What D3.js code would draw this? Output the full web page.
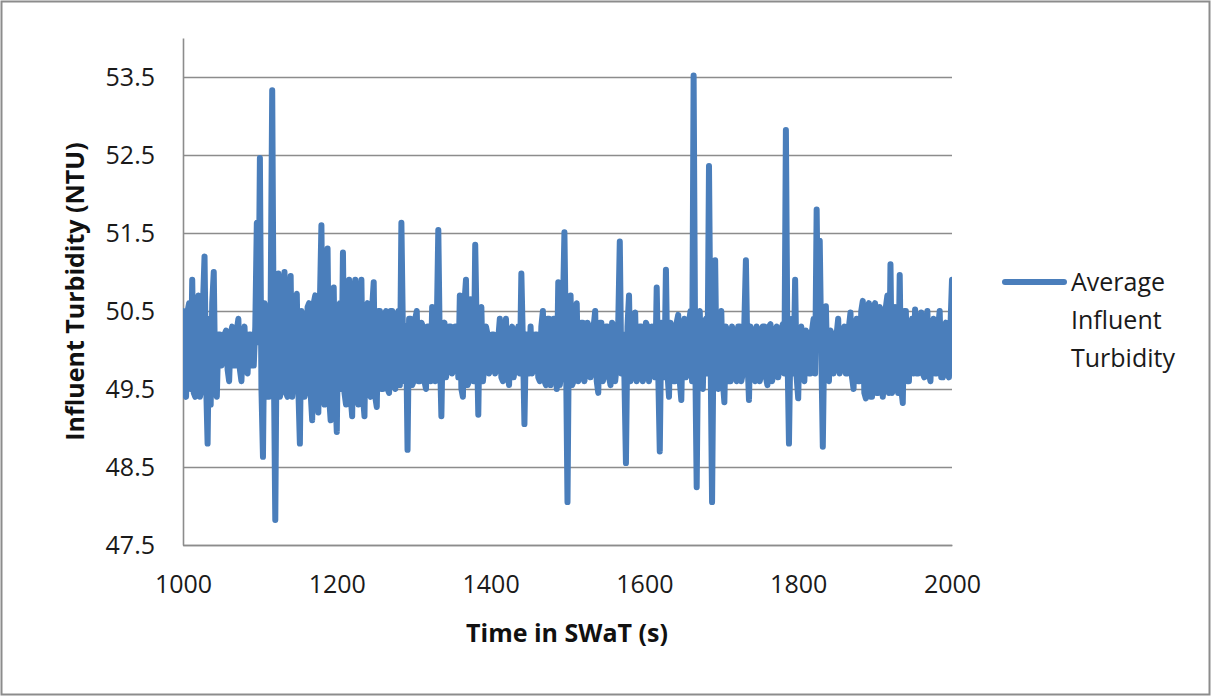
<!DOCTYPE html>
<html>
<head>
<meta charset="utf-8">
<script src="https://d3js.org/d3.v7.min.js"></script>
<style>
  body { margin: 0; background: white; }
  svg { display: block; }
  .tick text { font-family: "Open Sans", sans-serif; font-size: 25px; fill: #1a1a1a; }
  .grid line { stroke: #8c8c8c; stroke-width: 1.6px; }
  .domain { stroke: #8c8c8c; stroke-width: 1.6px; }
  .title { font-family: "Open Sans", sans-serif; font-size: 25px; font-weight: bold; fill: #111; }
  .legend text { font-family: "Open Sans", sans-serif; font-size: 25px; fill: #1a1a1a; }
</style>
</head>
<body>
<script>
// series sampled every 2 s from 1000 to 2000 (20 values = 40 s per row)
var startTime = 1000, step = 2
var turbidity = [
  50.5, 49.45, 49.4, 50.5, 50.6, 49.5, 50.9, 49.45, 49.4, 50.55, 50.7, 49.4, 49.5, 50.6, 51.2, 49.6, 48.8, 50.4, 49.3, 50.6,
  51.0, 49.5, 49.4, 50.2, 50.2, 49.8, 49.9, 50.2, 50.25, 49.75, 49.6, 50.2, 50.3, 49.8, 49.8, 50.25, 50.4, 49.75, 49.6, 50.2,
  50.3, 49.75, 49.7, 50.2, 50.2, 49.8, 49.8, 50.3, 51.63, 50.1, 52.46, 49.5, 48.63, 50.6, 50.5, 49.4, 49.4, 50.6, 53.33, 50.0,
  47.82, 50.5, 50.98, 49.4, 49.5, 50.6, 51.0, 49.45, 49.4, 50.6, 50.95, 49.4, 49.6, 50.55, 50.72, 49.5, 48.8, 50.5, 50.4, 49.4,
  49.5, 50.55, 50.6, 49.45, 49.1, 50.6, 50.7, 49.4, 49.2, 50.6, 51.6, 49.5, 49.3, 50.65, 51.3, 49.4, 49.1, 50.6, 50.8, 49.45,
  48.95, 50.5, 50.6, 49.5, 51.25, 49.45, 49.3, 50.6, 50.9, 49.4, 49.15, 50.6, 50.9, 49.45, 49.3, 50.6, 50.9, 49.4, 49.15, 50.55,
  50.6, 49.45, 49.4, 50.55, 50.87, 49.4, 49.27, 50.5, 50.5, 49.5, 49.5, 50.45, 50.5, 49.5, 49.45, 50.5, 50.5, 49.55, 49.5, 50.45,
  50.5, 49.55, 51.63, 50.2, 49.6, 50.3, 48.72, 50.4, 50.4, 49.55, 49.6, 50.4, 50.5, 49.6, 49.6, 50.35, 50.3, 49.6, 49.5, 50.3,
  50.3, 49.6, 50.55, 49.65, 49.6, 50.3, 51.54, 50.0, 49.15, 50.3, 50.35, 49.65, 49.8, 50.3, 50.3, 49.7, 49.75, 50.3, 50.3, 49.65,
  50.7, 49.5, 49.4, 50.6, 50.9, 49.55, 49.6, 50.65, 50.6, 49.6, 51.35, 50.2, 49.17, 50.5, 50.55, 49.6, 49.8, 50.3, 50.2, 49.7,
  49.75, 50.2, 50.2, 49.7, 49.8, 50.15, 50.4, 49.65, 49.6, 50.2, 50.4, 49.7, 49.55, 50.15, 50.3, 49.65, 49.8, 50.2, 50.3, 49.7,
  50.98, 50.1, 49.05, 50.2, 50.2, 49.7, 50.3, 49.7, 49.8, 50.2, 50.2, 49.65, 49.6, 50.3, 50.5, 49.6, 49.55, 50.4, 50.4, 49.55,
  49.75, 50.4, 50.4, 49.5, 50.87, 49.55, 49.7, 50.5, 51.51, 50.0, 48.05, 50.4, 50.7, 49.55, 49.6, 50.45, 50.6, 49.6, 49.65, 50.35,
  50.35, 49.6, 49.75, 50.35, 50.3, 49.65, 49.8, 50.3, 50.5, 49.6, 49.45, 50.35, 50.35, 49.6, 49.7, 50.3, 50.3, 49.65, 49.55, 50.35,
  50.3, 49.6, 49.8, 50.35, 51.39, 49.7, 50.2, 49.65, 48.55, 50.3, 50.7, 49.6, 49.7, 50.35, 50.48, 49.6, 49.65, 50.3, 50.3, 49.6,
  49.7, 50.35, 50.3, 49.6, 49.75, 50.3, 50.2, 49.65, 50.8, 49.7, 48.7, 50.35, 50.3, 49.65, 51.03, 49.7, 49.4, 50.35, 50.2, 49.6,
  49.6, 50.35, 50.45, 49.6, 49.36, 50.3, 50.4, 49.65, 49.7, 50.35, 50.5, 49.6, 53.52, 50.0, 48.24, 50.35, 50.5, 49.6, 49.5, 50.35,
  50.4, 49.7, 52.36, 50.0, 48.05, 50.3, 51.15, 49.6, 49.5, 50.4, 50.5, 49.6, 49.33, 50.3, 50.2, 49.6, 49.6, 50.3, 50.2, 49.65,
  49.6, 50.3, 50.3, 49.6, 49.7, 50.35, 51.15, 49.9, 49.36, 50.3, 50.2, 49.65, 49.6, 50.3, 50.25, 49.6, 49.7, 50.3, 50.3, 49.65,
  49.55, 50.3, 50.33, 49.6, 49.7, 50.25, 50.3, 49.65, 49.8, 50.25, 50.33, 49.7, 52.82, 50.0, 48.8, 50.2, 50.4, 49.7, 50.9, 49.65,
  49.38, 50.25, 50.3, 49.65, 49.6, 50.25, 50.2, 49.7, 49.7, 50.25, 50.4, 49.7, 51.8, 50.1, 51.4, 50.0, 48.76, 50.2, 50.56, 49.7,
  49.6, 50.25, 50.2, 49.7, 49.85, 50.2, 50.4, 49.7, 49.8, 50.25, 50.3, 49.7, 49.7, 50.3, 50.48, 49.65, 49.5, 50.3, 50.4, 49.6,
  49.6, 50.5, 50.63, 49.45, 49.38, 50.55, 50.6, 49.4, 49.4, 50.55, 50.6, 49.45, 49.45, 50.55, 50.5, 49.4, 49.6, 50.55, 50.7, 49.45,
  51.1, 49.45, 49.5, 50.55, 50.5, 49.45, 50.96, 49.5, 49.32, 50.5, 50.5, 49.6, 49.6, 50.3, 50.4, 49.7, 50.52, 49.7, 49.7, 50.3,
  50.48, 49.7, 49.65, 50.3, 50.5, 49.7, 49.6, 50.3, 50.4, 49.7, 49.7, 50.3, 50.5, 49.65, 49.65, 50.3, 50.35, 49.7, 49.65, 50.3,
  50.9
]
var xTicks = [1000, 1200, 1400, 1600, 1800, 2000]
var yTicks = [47.5, 48.5, 49.5, 50.5, 51.5, 52.5, 53.5]
var legendLabel = ["Average", "Influent", "Turbidity"]

var W = 1211, H = 696
var plotL = 183, plotR = 952, plotT = 38, plotB = 545
var blue = "#4a7ebb"

var svg = d3.select("body").append("svg")
  .attr("width", W)
  .attr("height", H)

// outer frame
svg.append("rect")
  .attr("x", 1.5).attr("y", 1.5)
  .attr("width", W - 3).attr("height", H - 3)
  .attr("fill", "white")
  .attr("stroke", "#8c8c8c")
  .attr("stroke-width", 2)

svg.append("clipPath").attr("id", "plotclip")
  .append("rect")
  .attr("x", plotL).attr("y", 0)
  .attr("width", plotR - plotL).attr("height", plotB + 10)

var x = d3.scaleLinear().domain([1000, 2000]).range([plotL, plotR])
var y = d3.scaleLinear().domain([47.5, 54]).range([plotB, plotT])

// y axis with gridlines
svg.append("g")
  .attr("class", "grid")
  .attr("transform", `translate(${plotL},0)`)
  .call(d3.axisLeft(y).tickValues(yTicks).tickFormat(d3.format(".1f"))
    .tickSize(-(plotR - plotL)).tickSizeOuter(0).tickPadding(28))

// x axis
svg.append("g")
  .attr("class", "grid")
  .attr("transform", `translate(0,${plotB})`)
  .call(d3.axisBottom(x).tickValues(xTicks).tickFormat(d3.format("d"))
    .tickSize(0).tickPadding(30))

var data = turbidity.map(function(v, i) { return [startTime + i * step, v] })

var line = d3.line()
  .x(function(d) { return x(d[0]) })
  .y(function(d) { return y(d[1]) })

svg.append("path")
  .datum(data)
  .attr("clip-path", "url(#plotclip)")
  .attr("fill", "none")
  .attr("stroke", blue)
  .attr("stroke-width", 6)
  .attr("stroke-linejoin", "round")
  .attr("stroke-linecap", "round")
  .attr("d", line)

// axis titles
svg.append("text")
  .attr("class", "title")
  .attr("text-anchor", "middle")
  .attr("transform", `translate(84,${(plotT + plotB) / 2}) rotate(-90)`)
  .text("Influent Turbidity (NTU)")

svg.append("text")
  .attr("class", "title")
  .attr("text-anchor", "middle")
  .attr("x", 567)
  .attr("y", 642)
  .text("Time in SWaT (s)")

// legend
var legend = svg.append("g").attr("class", "legend")
legend.append("line")
  .attr("x1", 1005).attr("x2", 1064)
  .attr("y1", 282).attr("y2", 282)
  .attr("stroke", blue)
  .attr("stroke-width", 6)
  .attr("stroke-linecap", "round")
legend.selectAll("text")
  .data(legendLabel)
  .enter().append("text")
  .attr("x", 1071)
  .attr("y", function(d, i) { return 291 + i * 38 })
  .text(function(d) { return d })
</script>
</body>
</html>
